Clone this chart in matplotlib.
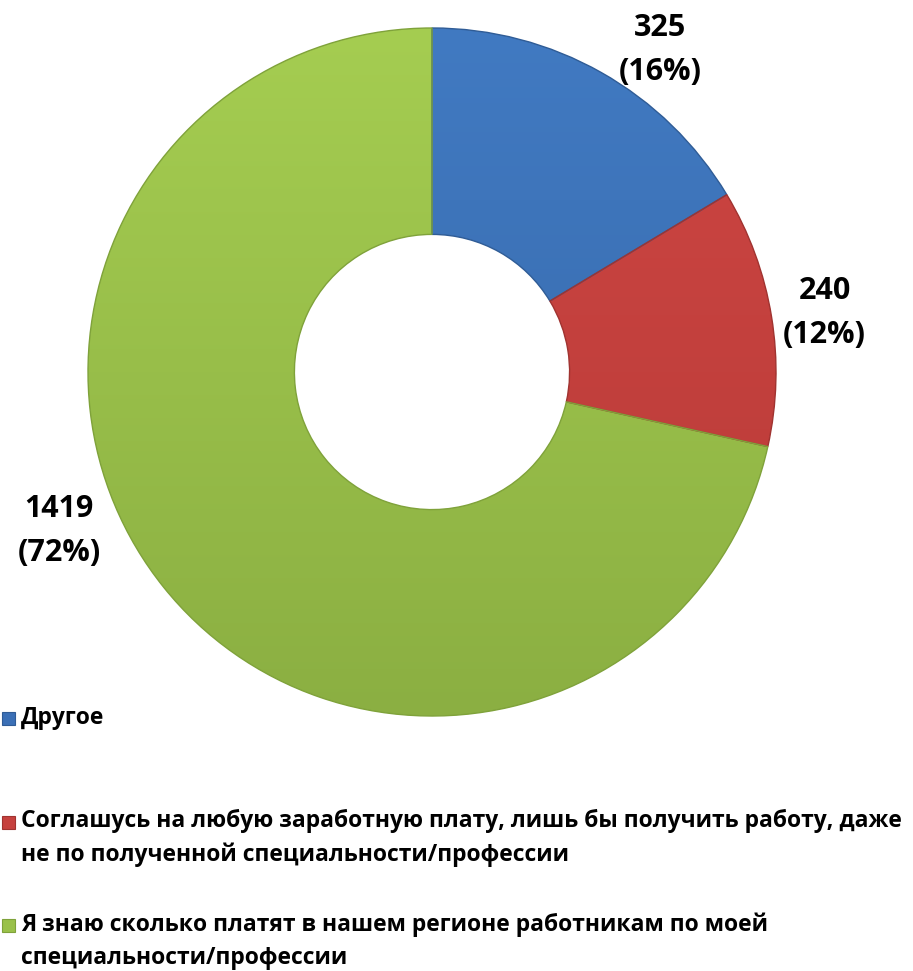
import matplotlib
matplotlib.use("Agg")
import numpy as np
import matplotlib.pyplot as plt
from matplotlib.patches import Rectangle
from matplotlib.colors import LinearSegmentedColormap

plt.rcParams['font.family'] = ['Open Sans', 'DejaVu Sans']

categories = ["Другое",
              "Соглашусь на любую заработную плату, лишь бы получить работу, даже\nне по полученной специальности/профессии",
              "Я знаю сколько платят в нашем регионе работникам по моей\nспециальности/профессии"]
values = [325, 240, 1419]
percents = ["16%", "12%", "72%"]
colors = ["#3B70B6", "#C6413E", "#9AC14A"]
light = ["#417AC2", "#CE4643", "#A5CD51"]
dark = ["#3566A6", "#B73A37", "#8BAF42"]
edges = ["#2F5C96", "#A03330", "#7FA23A"]

W, H = 913, 971
fig = plt.figure(figsize=(W / 100, H / 100), dpi=100)

cx, cy, R = 432, 372, 344
ax = fig.add_axes([(cx - R) / W, (H - cy - R) / H, 2 * R / W, 2 * R / H])

wedges, _ = ax.pie(values, colors=colors, startangle=90, counterclock=False,
                   radius=1.0,
                   wedgeprops=dict(width=0.6, linewidth=0))
grad = np.linspace(0, 1, 256).reshape(-1, 1)
for w, lc, dc, ec in zip(wedges, light, dark, edges):
    cmap = LinearSegmentedColormap.from_list("g", [dc, lc])
    im = ax.imshow(grad, cmap=cmap, extent=[-1, 1, -1, 1], origin='lower',
                   aspect='auto', zorder=w.get_zorder() + 0.1)
    im.set_clip_path(w)
    w.set_edgecolor(ec)
    w.set_linewidth(1.0)
    w.set_zorder(w.get_zorder() + 0.2)
    w.set_facecolor('none')
ax.set_xlim(-1, 1)
ax.set_ylim(-1, 1)
ax.set_aspect('equal')
ax.axis('off')

label_pos = [(0.663, 0.935), (1.141, 0.172), (-1.084, -0.462)]
for v, p, (lx, ly) in zip(values, percents, label_pos):
    ax.text(lx, ly, f"{v}\n({p})", ha='center', va='center', fontsize=22,
            fontweight='bold', linespacing=1.62, clip_on=False)

# legend (manual)
leg_y = [718, 838, 941]
for cat, col, ec, y in zip(categories, colors, edges, leg_y):
    y0 = y if '\n' not in cat else y - 16
    fig.patches.append(Rectangle((2 / W, 1 - (y0 + 6.5) / H), 13 / W, 13 / H,
                                 transform=fig.transFigure, facecolor=col,
                                 edgecolor=ec, linewidth=0.8))
    fig.text(21 / W, 1 - y / H, cat, ha='left', va='center', fontsize=16.5,
             fontweight='bold', linespacing=1.48)

fig.savefig("out.png", dpi=100, facecolor='white')
